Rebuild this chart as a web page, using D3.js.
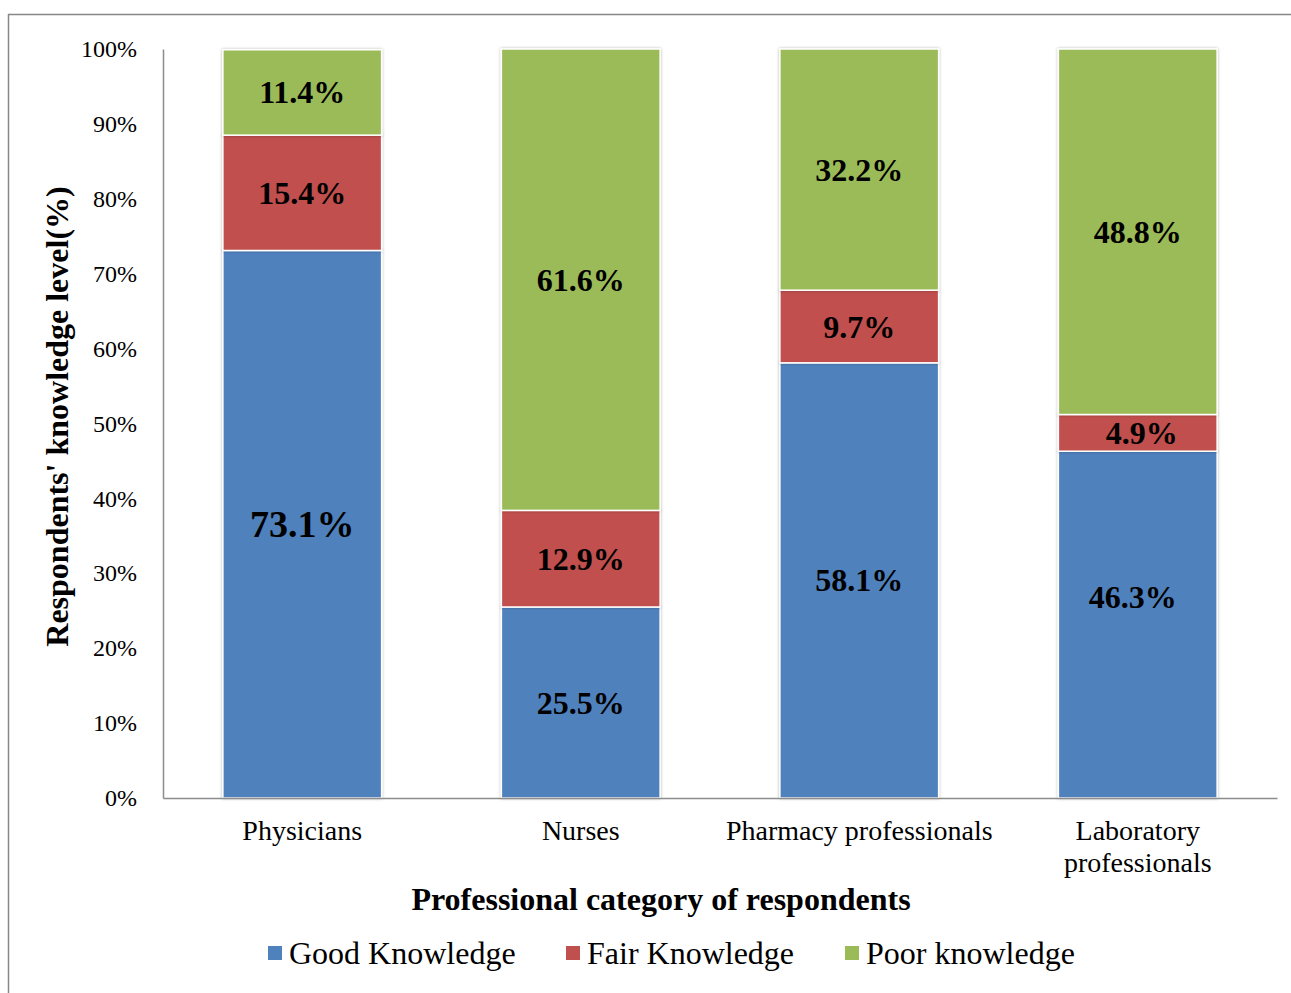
<!DOCTYPE html>
<html>
<head>
<meta charset="utf-8">
<script src="https://cdn.jsdelivr.net/npm/d3@7"></script>
<style>
  body { margin: 0; background: #fff; }
  text { font-family: "Liberation Serif", "Times New Roman", serif; }
</style>
</head>
<body>
<svg id="chart" width="1291" height="993"></svg>
<script>
// data
var categories = ["Physicians", "Nurses", "Pharmacy professionals", "Laboratory professionals"];
var seriesNames = ["Good Knowledge", "Fair Knowledge", "Poor knowledge"];
var goodValues = [73.1, 25.5, 58.1, 46.3];
var fairValues = [15.4, 12.9, 9.7, 4.9];
var poorValues = [11.4, 61.6, 32.2, 48.8];
var yTicks = [0, 10, 20, 30, 40, 50, 60, 70, 80, 90, 100];
var colors = ["#4F81BD", "#C0504D", "#9BBB59"];

var svg = d3.select("#chart");

// outer frame (top + left only visible)
svg.append("line").attr("x1", 8).attr("x2", 1291).attr("y1", 14.5).attr("y2", 14.5)
    .attr("stroke", "#878787").attr("stroke-width", 1.5);
svg.append("line").attr("x1", 8.5).attr("x2", 8.5).attr("y1", 14).attr("y2", 993)
    .attr("stroke", "#878787").attr("stroke-width", 1.5);

var plotL = 163, plotR = 1277, plotT = 49, plotB = 798;

var x = d3.scaleBand().domain(categories).range([plotL, plotR]).paddingInner(0.43).paddingOuter(0.215);
var y = d3.scaleLinear().domain([0, 100]).range([plotB, plotT]);

var defs = svg.append("defs");
var f = defs.append("filter").attr("id", "shadow").attr("x", "-10%").attr("y", "-10%").attr("width", "120%").attr("height", "120%");
f.append("feDropShadow").attr("dx", 0).attr("dy", 0).attr("stdDeviation", 1.5)
    .attr("flood-color", "#000").attr("flood-opacity", 0.3);

// stacked rows
var rows = categories.map(function(c, i) {
    return { cat: c, good: goodValues[i], fair: fairValues[i], poor: poorValues[i] };
});
var stack = d3.stack().keys(["good", "fair", "poor"]);
var layers = stack(rows);

var barG = svg.append("g");
layers.forEach(function(layer, li) {
    barG.selectAll(".bar" + li).data(layer).enter()
        .append("rect")
        .attr("x", function(d) { return x(d.data.cat); })
        .attr("y", function(d) { return y(Math.min(d[1], 100)); })
        .attr("width", x.bandwidth())
        .attr("height", function(d) { return y(d[0]) - y(Math.min(d[1], 100)); })
        .attr("fill", colors[li])
        .attr("stroke", "#fff")
        .attr("stroke-width", 1.5)
        .attr("filter", "url(#shadow)");
});

// value labels (the lab "good" label sits a little higher in the original)
layers.forEach(function(layer, li) {
    barG.selectAll(".lab" + li).data(layer).enter()
        .append("text")
        .attr("x", function(d) { return x(d.data.cat) + x.bandwidth() / 2 + (d.data.cat === "Laboratory professionals" && li < 2 ? (li === 0 ? -5 : 4) : 0); })
        .attr("y", function(d) { return y((d[0] + Math.min(d[1], 100)) / 2); })
        .attr("dy", function(d) { return (li === 0 && d.data.cat === "Laboratory professionals") ? -28 : 0; })
        .attr("text-anchor", "middle")
        .attr("dominant-baseline", "central")
        .attr("font-weight", "bold")
        .attr("font-size", function(d) { return (li === 0 && d.data.cat === "Physicians") ? 38 : 32; })
        .text(function(d) { return (d[1] - d[0]).toFixed(1) + "%"; });
});

// axes
var yAxis = d3.axisLeft(y).tickValues(yTicks).tickSize(0).tickPadding(26)
    .tickFormat(function(d) { return d + "%"; });
var yg = svg.append("g").attr("transform", "translate(" + plotL + ",0)").call(yAxis);
yg.select(".domain").attr("stroke", "#8c8c8c").attr("stroke-width", 1.5);
yg.selectAll("text").attr("font-size", 24).attr("fill", "#000")
    .style("font-family", "Liberation Serif");

var xAxis = d3.axisBottom(x).tickSize(0).tickPadding(22);
var xg = svg.append("g").attr("transform", "translate(0," + plotB + ")").call(xAxis);
xg.select(".domain").attr("stroke", "#8c8c8c").attr("stroke-width", 1.5);
xg.selectAll("text").attr("font-size", 28).attr("fill", "#000")
    .style("font-family", "Liberation Serif")
    .each(function(d) {
        var t = d3.select(this);
        if (d === "Laboratory professionals") {
            t.text(null);
            t.append("tspan").attr("x", 0).attr("dy", "0.71em").text("Laboratory");
            t.append("tspan").attr("x", 0).attr("dy", "1.14em").text("professionals");
        }
    });

// axis titles
svg.append("text")
    .attr("transform", "translate(57," + ((plotT + plotB) / 2 - 7) + ") rotate(-90)")
    .attr("text-anchor", "middle").attr("dominant-baseline", "central")
    .attr("font-size", 32).attr("font-weight", "bold")
    .text("Respondents' knowledge level(%)");

svg.append("text")
    .attr("x", 661).attr("y", 899)
    .attr("text-anchor", "middle").attr("dominant-baseline", "central")
    .attr("font-size", 32).attr("font-weight", "bold")
    .text("Professional category of respondents");

// legend
var legendX = [268, 566, 845];
var lg = svg.append("g");
seriesNames.forEach(function(name, i) {
    var g = lg.append("g").attr("transform", "translate(" + legendX[i] + ",953)");
    g.append("rect").attr("x", 0).attr("y", -7).attr("width", 14).attr("height", 14).attr("fill", colors[i]);
    g.append("text").attr("x", 21).attr("y", 0).attr("dominant-baseline", "central")
        .attr("font-size", 32).text(name);
});
</script>
</body>
</html>
